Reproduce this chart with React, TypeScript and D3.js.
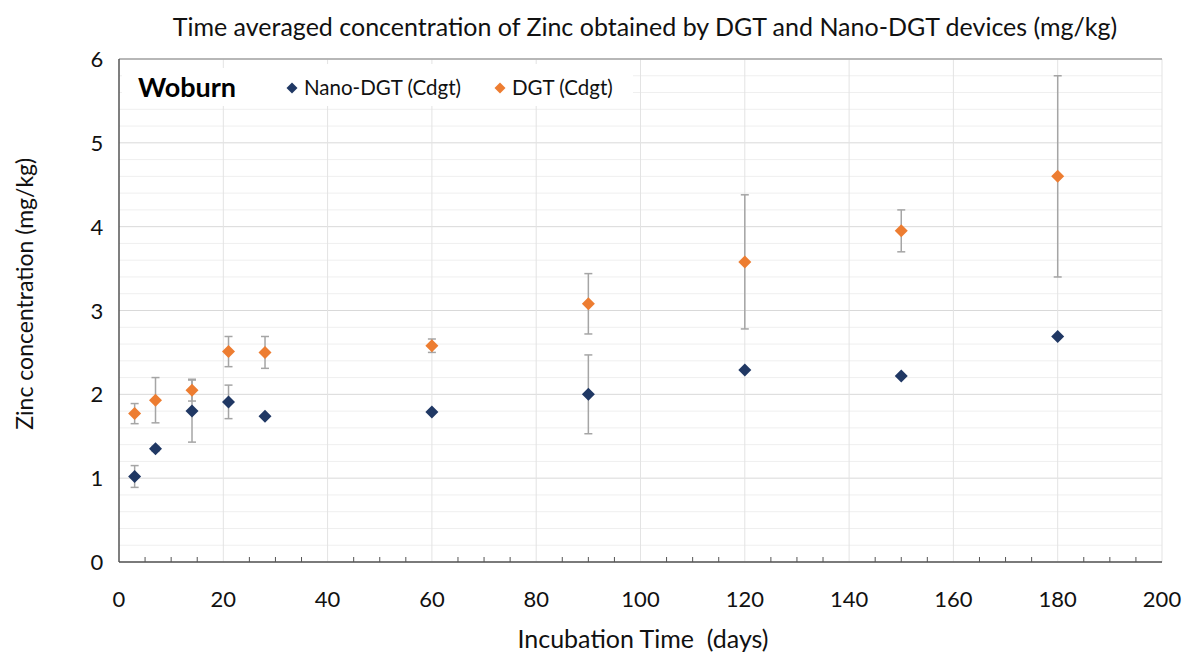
import React from 'react';
import * as d3 from 'd3';

// days of incubation
const days = [3, 7, 14, 21, 28, 60, 90, 120, 150, 180];

// Nano-DGT (Cdgt), mg/kg, with error (+/-)
const nanoValues = [1.02, 1.35, 1.80, 1.91, 1.74, 1.79, 2.00, 2.29, 2.22, 2.69];
const nanoErrors = [0.13, 0.03, 0.37, 0.20, 0, 0, 0.47, 0, 0, 0];

// DGT (Cdgt), mg/kg, with error (+/-)
const dgtValues = [1.77, 1.93, 2.05, 2.51, 2.50, 2.58, 3.08, 3.58, 3.95, 4.60];
const dgtErrors = [0.12, 0.27, 0.13, 0.18, 0.19, 0.08, 0.36, 0.80, 0.25, 1.20];

const xTicks = [0, 20, 40, 60, 80, 100, 120, 140, 160, 180, 200];
const yTicks = [0, 1, 2, 3, 4, 5, 6];

const series = [
  { name: 'Nano-DGT (Cdgt)', color: '#203864', values: nanoValues, errors: nanoErrors },
  { name: 'DGT (Cdgt)', color: '#ED7D31', values: dgtValues, errors: dgtErrors },
];

const font = 'Lato, "Noto Sans", sans-serif';

export default function App() {
  const width = 1187;
  const height = 659;
  const margin = { left: 119, right: 25, top: 59, bottom: 97 };

  const x = d3.scaleLinear().domain([0, 200]).range([margin.left, width - margin.right]);
  const y = d3.scaleLinear().domain([0, 6]).range([height - margin.bottom, margin.top]);

  const minorY = d3.range(0, 6.01, 0.2);
  const minorX = d3.range(0, 201, 5);
  const diamond = (cx: number, cy: number, r: number) =>
    `M${cx},${cy - r}L${cx + r},${cy}L${cx},${cy + r}L${cx - r},${cy}Z`;

  return (
    <svg width={width} height={height} style={{ position: 'absolute', left: 0, top: 0, background: '#fff' }}>
      <text x={645} y={36} textAnchor="middle" fontFamily={font} fontSize={25} fill="#111">
        Time averaged concentration of Zinc obtained by DGT and Nano-DGT devices (mg/kg)
      </text>

      {/* grid */}
      {minorY.map(v => (
        <line key={'gy' + v} x1={x(0)} x2={x(200)} y1={y(v)} y2={y(v)}
          stroke={Math.abs(v - Math.round(v)) < 1e-6 ? '#d9d9d9' : '#efefef'} strokeWidth={1} />
      ))}
      {xTicks.slice(1).map(v => (
        <line key={'gx' + v} x1={x(v)} x2={x(v)} y1={y(0)} y2={y(6)} stroke="#e3e3e3" strokeWidth={1} />
      ))}
      <line x1={x(0)} x2={x(200)} y1={y(6)} y2={y(6)} stroke="#a6a6a6" strokeWidth={1.5} />

      {/* title box and legend */}
      <rect x={122} y={68} width={136} height={38} fill="#fff" />
      <rect x={258} y={64} width={375} height={42} fill="#fff" />
      <text x={138} y={97} fontFamily={font} fontSize={27} fontWeight="bold" fill="#000">Woburn</text>
      {series.map((s, i) => {
        const lx = i === 0 ? 292 : 500;
        return (
          <g key={s.name}>
            <path d={diamond(lx, 88, 5.5)} fill={s.color} />
            <text x={lx + 12} y={95} fontFamily={font} fontSize={20.5} fill="#111">{s.name}</text>
          </g>
        );
      })}

      {/* axes */}
      <line x1={x(0)} x2={x(0)} y1={y(0)} y2={y(6)} stroke="#555" strokeWidth={1.5} />
      <line x1={x(0)} x2={x(200)} y1={y(0)} y2={y(0)} stroke="#555" strokeWidth={1.5} />
      {minorX.map(v => (
        <line key={'tx' + v} x1={x(v)} x2={x(v)} y1={y(0)} y2={y(0) - (v % 20 === 0 ? 0 : 5)} stroke="#555" />
      ))}
      {xTicks.map(v => (
        <text key={'xl' + v} x={x(v)} y={y(0) + 45} textAnchor="middle" fontFamily={font} fontSize={22} fill="#111">{v}</text>
      ))}
      {yTicks.map(v => (
        <text key={'yl' + v} x={x(0) - 22} y={y(v) + 8} textAnchor="middle" fontFamily={font} fontSize={22} fill="#111">{v}</text>
      ))}
      <text x={643} y={648} textAnchor="middle" fontFamily={font} fontSize={25} fill="#111" style={{ whiteSpace: 'pre' }}>
        {'Incubation Time  (days)'}
      </text>
      <text transform={`translate(33,${y(3.2)}) rotate(-90)`} textAnchor="middle" fontFamily={font} fontSize={23} fill="#111">
        Zinc concentration (mg/kg)
      </text>

      {/* error bars */}
      {series.map(s => (
        <g key={'err' + s.name} stroke="#a5a5a5" strokeWidth={1.5}>
          {days.map((d, i) => s.errors[i] > 0 ? (
            <g key={d}>
              <line x1={x(d)} x2={x(d)} y1={y(s.values[i] - s.errors[i])} y2={y(s.values[i] + s.errors[i])} />
              <line x1={x(d) - 4} x2={x(d) + 4} y1={y(s.values[i] - s.errors[i])} y2={y(s.values[i] - s.errors[i])} />
              <line x1={x(d) - 4} x2={x(d) + 4} y1={y(s.values[i] + s.errors[i])} y2={y(s.values[i] + s.errors[i])} />
            </g>
          ) : null)}
        </g>
      ))}

      {/* points */}
      {series.map(s => (
        <g key={'pt' + s.name}>
          {days.map((d, i) => (
            <path key={d} d={diamond(x(d), y(s.values[i]), 6.5)} fill={s.color} />
          ))}
        </g>
      ))}
    </svg>
  );
}
